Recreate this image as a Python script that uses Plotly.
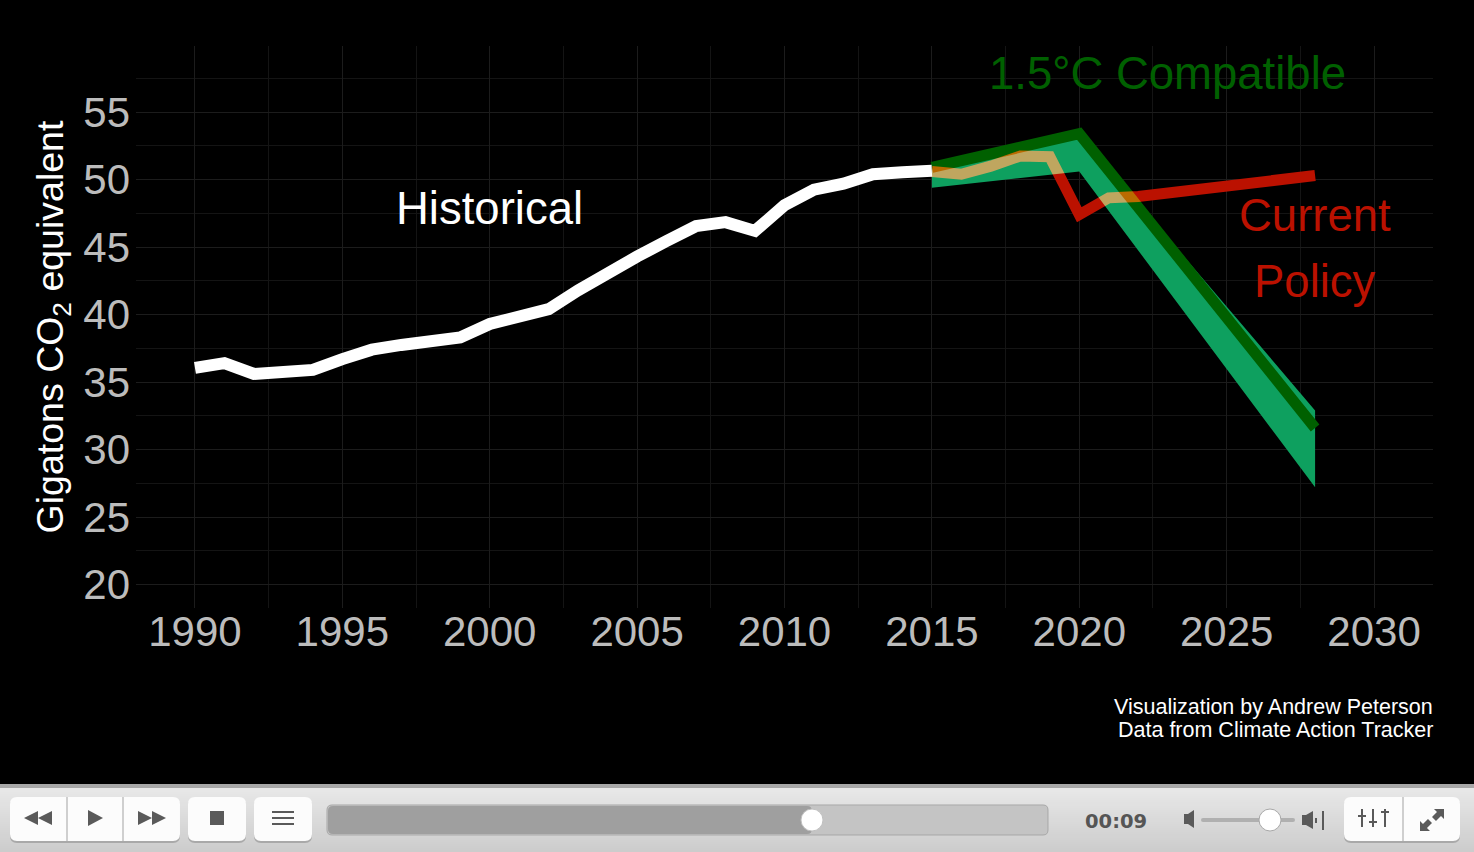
import plotly.graph_objects as go

# ---------- data ----------
hist_years = list(range(1990, 2016))
hist_values = [36.05, 36.4, 35.6, 35.8, 35.9, 36.7, 37.4, 37.75, 38.05, 38.3, 39.3, 39.75, 40.4,
               41.8, 43.15, 44.3, 45.45, 46.55, 46.85, 46.2, 48.1, 49.25, 49.7, 50.4, 50.55, 50.65]
policy_years = [2015, 2016, 2017, 2018, 2019, 2020, 2021, 2022, 2028]
policy_values = [50.6, 50.4, 51.0, 51.75, 51.7, 47.4, 48.65, 48.75, 50.3]
path_years = [2015, 2020, 2028]
path_values = [50.9, 53.4, 31.6]
band_upper = [51.0, 53.4, 32.9]
band_lower = [49.4, 50.6, 27.2]
x_ticks = [1990, 1995, 2000, 2005, 2010, 2015, 2020, 2025, 2030]
y_ticks = [20, 25, 30, 35, 40, 45, 50, 55]

W, H = 1474, 852
L, R, T, B = 136, 1433, 46, 608
FONT = "Liberation Sans"
RED = "#bb1100"
DARK = "#006000"
BAND = "#0ea05f"


def px(x):
    return (x - L) / (R - L)


def py(y):
    return (B - y) / (B - T)


def rect(x0, y0, x1, y1, fill):
    return dict(type="rect", xref="paper", yref="paper", x0=px(x0), x1=px(x1), y0=py(y0), y1=py(y1),
                fillcolor=fill, line_width=0, layer="above")


def poly(points, fill):
    d = "M" + " L".join(f"{px(a):.5f},{py(b):.5f}" for a, b in points) + " Z"
    return dict(type="path", xref="paper", yref="paper", path=d, fillcolor=fill, line_width=0, layer="above")


def rrect(x0, y0, x1, y1, r, fill, line=None):
    p = lambda a, b: f"{px(a):.5f},{py(b):.5f}"
    d = (f"M{p(x0 + r, y0)} L{p(x1 - r, y0)} Q{p(x1, y0)} {p(x1, y0 + r)} L{p(x1, y1 - r)} "
         f"Q{p(x1, y1)} {p(x1 - r, y1)} L{p(x0 + r, y1)} Q{p(x0, y1)} {p(x0, y1 - r)} "
         f"L{p(x0, y0 + r)} Q{p(x0, y0)} {p(x0 + r, y0)} Z")
    s = dict(type="path", xref="paper", yref="paper", path=d, fillcolor=fill, layer="above")
    s["line"] = dict(color=line, width=1) if line else dict(width=0)
    return s


def circle(cx, cy, r, fill, line):
    return dict(type="circle", xref="paper", yref="paper", x0=px(cx - r), x1=px(cx + r), y0=py(cy + r),
                y1=py(cy - r), fillcolor=fill, line=dict(color=line, width=1), layer="above")


fig = go.Figure()
for xs, ys, fill in [(path_years, band_lower, None), (path_years, band_upper, "tonexty")]:
    fig.add_trace(go.Scatter(x=xs, y=ys, mode="lines", line=dict(width=0, color=BAND), fill=fill,
                             fillcolor=BAND, hoverinfo="skip", showlegend=False))
fig.add_trace(go.Scatter(x=path_years, y=path_values, mode="lines", line=dict(color=DARK, width=11),
                         hoverinfo="skip", showlegend=False))
fig.add_trace(go.Scatter(x=hist_years, y=hist_values, mode="lines", line=dict(color="#ffffff", width=12),
                         hoverinfo="skip", showlegend=False))
fig.add_trace(go.Scatter(x=policy_years, y=policy_values, mode="lines", line=dict(color=RED, width=11),
                         hoverinfo="skip", showlegend=False))

# ---------- player bar ----------
IC = "#5a5a5a"
shapes = []
N = 33
for i in range(N):
    t = i / (N - 1)
    v = int(232 - t * 28)
    shapes.append(rect(0, 788 + i * 2, W, 790 + i * 2, f"rgb({v},{v},{v})"))
shapes.append(rect(0, 784, W, 788, "#a8a8a8"))
for a, b in [(10, 180), (188, 246), (254, 312), (1344, 1460)]:
    shapes.append(rrect(a, 799, b, 843, 7, "#a9a9a9"))
    shapes.append(rrect(a, 797, b, 841, 7, "#fcfcfc"))
for x in (67, 123, 1403):
    shapes.append(rect(x - 1, 797, x + 1, 841, "#cfcfcf"))
shapes += [
    poly([(24, 818), (38, 811), (38, 825)], IC), poly([(38, 818), (52, 811), (52, 825)], IC),
    poly([(88, 810), (103, 818), (88, 826)], IC),
    poly([(138, 811), (152, 818), (138, 825)], IC), poly([(152, 811), (166, 818), (152, 825)], IC),
    rect(210, 811, 224, 825, IC),
    rect(272, 811, 294, 813, IC), rect(272, 817, 294, 819, IC), rect(272, 823, 294, 825, IC),
]
shapes.append(rrect(327, 805, 1048, 835, 5, "#c4c4c4", "#a8a8a8"))
shapes.append(rrect(328, 806, 812, 834, 5, "#9f9f9f"))
shapes.append(circle(812, 820, 11, "#ffffff", "#c0c0c0"))
# volume
shapes += [
    rect(1184, 814, 1188, 824, IC), poly([(1188, 814), (1194, 810), (1194, 828), (1188, 824)], IC),
    rrect(1201, 818, 1295, 822, 2, "#b0b0b0"),
    circle(1270, 820, 11, "#ffffff", "#a8a8a8"),
    rect(1302, 815, 1306, 825, IC), poly([(1306, 815), (1313, 811), (1313, 829), (1306, 825)], IC),
    rect(1315, 818, 1317, 823, IC), rect(1322, 811, 1324, 830, IC),
]
# mixer and fullscreen
shapes += [
    rect(1361, 809, 1363, 827, IC), rect(1358, 815, 1366, 817, IC),
    rect(1372, 809, 1374, 827, IC), rect(1369, 821, 1377, 823, IC),
    rect(1384, 809, 1386, 827, IC), rect(1381, 811, 1389, 813, IC),
    poly([(1444, 809), (1444, 819), (1441, 816), (1436, 821), (1432, 817), (1437, 812), (1434, 809)], IC),
    poly([(1420, 831), (1420, 821), (1423, 824), (1428, 819), (1432, 823), (1427, 828), (1430, 831)], IC),
]

annotations = [
    dict(x=2000, y=47.85, text="Historical", font=dict(color="#ffffff", size=45.5)),
    dict(x=2023, y=57.85, text="1.5°C Compatible", font=dict(color=DARK, size=45.5)),
    dict(x=2028, y=47.33, text="Current", font=dict(color=RED, size=45.5)),
    dict(x=2028, y=42.43, text="Policy", font=dict(color=RED, size=45.5)),
]
for a in annotations:
    a.update(xref="x", yref="y", showarrow=False, xanchor="center", yanchor="middle")
annotations += [
    dict(xref="paper", yref="paper", x=1, y=py(707), text="Visualization by Andrew Peterson",
         showarrow=False, xanchor="right", yanchor="middle", xshift=2, font=dict(color="#ffffff", size=21.5)),
    dict(xref="paper", yref="paper", x=1, y=py(730), text="Data from Climate Action Tracker",
         showarrow=False, xanchor="right", yanchor="middle", xshift=2, font=dict(color="#ffffff", size=21.5)),
    dict(xref="paper", yref="paper", x=px(1116), y=py(821), text="<b>00:09</b>", showarrow=False,
         xanchor="center", yanchor="middle", font=dict(color="#555555", size=19.5, family="DejaVu Sans")),
]

fig.update_layout(
    width=W, height=H, paper_bgcolor="#000000", plot_bgcolor="#000000",
    margin=dict(l=L, r=W - R, t=T, b=H - B, autoexpand=False),
    font=dict(family=FONT), showlegend=False, shapes=shapes, annotations=annotations,
    xaxis=dict(range=[1988, 2032], tickvals=x_ticks, ticktext=[str(v) for v in x_ticks],
               tickfont=dict(color="#bcbcbc", size=42), showgrid=True, gridcolor="#1c1c1c", gridwidth=1,
               zeroline=False, showline=False, ticks="", automargin=False, ticklabelstandoff=-5,
               minor=dict(dtick=2.5, tick0=1990, showgrid=True, gridcolor="#141414", gridwidth=1)),
    yaxis=dict(range=[18.26, 59.9], tickvals=y_ticks, ticktext=[str(v) for v in y_ticks],
               tickfont=dict(color="#bcbcbc", size=42), showgrid=True, gridcolor="#1c1c1c", gridwidth=1,
               zeroline=False, showline=False, ticks="", automargin=False, ticklabelstandoff=5,
               title=dict(text="Gigatons CO<sub>2</sub> equivalent", font=dict(color="#ffffff", size=37.5), standoff=8),
               minor=dict(dtick=2.5, tick0=20, showgrid=True, gridcolor="#141414", gridwidth=1)),
)

post = """
document.body.style.margin='0';
document.body.style.background='#000';
var tr=document.querySelectorAll('.scatterlayer .trace');
tr[tr.length-1].style.mixBlendMode='screen';
"""
fig.write_html("out.html", config={"displayModeBar": False, "responsive": False}, post_script=post)
